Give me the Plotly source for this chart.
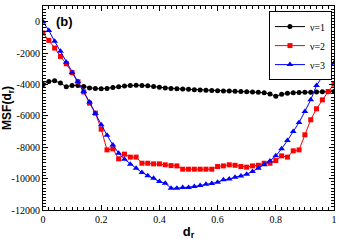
import plotly.graph_objects as go

dr = [round(i * 0.02, 2) for i in range(51)]

msf_v1 = [-4000, -3810, -3770, -3910, -4150, -4060, -4060, -4130, -4230, -4260,
          -4280, -4250, -4200, -4150, -4100, -4060, -4050, -4060, -4080, -4130,
          -4180, -4220, -4250, -4270, -4290, -4310, -4330, -4350, -4370, -4390,
          -4400, -4410, -4420, -4430, -4450, -4470, -4480, -4500, -4530, -4600,
          -4750, -4620, -4560, -4530, -4510, -4500, -4490, -4480, -4470, -4460, -4450]

msf_v2 = [-720, -1190, -1680, -2210, -2680, -3250, -3830, -4480, -5190, -5830,
          -6850, -8170, -8100, -8740, -8440, -8630, -8630, -9020, -9020, -9060,
          -9060, -9120, -9170, -9190, -9400, -9400, -9400, -9400, -9400, -9400,
          -9230, -9190, -9120, -9150, -9230, -9270, -9190, -9150, -9020, -9020,
          -8850, -8550, -8630, -8230, -8170, -7210, -6250, -5550, -4980, -4450, -3980]

msf_v3 = [0, -560, -1250, -1890, -2580, -3230, -3810, -4450, -5120, -5850,
          -6570, -7240, -7850, -8380, -8760, -9080, -9340, -9610, -9810, -9980,
          -10190, -10290, -10610, -10610, -10570, -10570, -10500, -10440, -10360, -10310,
          -10230, -10080, -10020, -9910, -9830, -9720, -9550, -9340, -9120, -8870,
          -8550, -8100, -7570, -7000, -6420, -5720, -4980, -4060, -3490, -2950, -2640]

series_names = ["ν=1", "ν=2", "ν=3"]
x_tickvals = [0, 0.2, 0.4, 0.6, 0.8, 1.0]
x_ticktext = ["0", "0.2", "0.4", "0.6", "0.8", "1"]
y_tickvals = [0, -2000, -4000, -6000, -8000, -10000, -12000]
y_ticktext = ["0", "-2000", "-4000", "-6000", "-8000", "-10000", "-12000"]

fig = go.Figure()
styles = [("black", "circle", 5), ("#ff0000", "square", 5), ("#0000ff", "triangle-up", 6)]
for name, ys, (col, sym, sz) in zip(series_names, [msf_v1, msf_v2, msf_v3], styles):
    fig.add_trace(go.Scatter(
        x=dr, y=ys, name=name, mode="lines+markers",
        line=dict(color=col, width=1),
        marker=dict(color=col, symbol=sym, size=sz, line=dict(width=0)),
    ))

axis_common = dict(
    showline=True, linecolor="black", linewidth=1.2, mirror="allticks",
    ticks="inside", ticklen=5, tickcolor="black", tickwidth=1,
    showgrid=False, zeroline=False, automargin=False,
    tickfont=dict(family="Liberation Serif", size=10, color="black"),
)

fig.update_xaxes(
    range=[0, 1], tickvals=x_tickvals, ticktext=x_ticktext,
    minor=dict(ticks="inside", ticklen=3, dtick=0.02, tick0=0, tickcolor="black", showgrid=False),
    title=dict(text="<b>d<sub>r</sub></b>", font=dict(family="Liberation Sans", size=13, color="black"), standoff=2),
    **axis_common,
)
fig.update_yaxes(
    range=[-12000, 1000], tickvals=y_tickvals, ticktext=y_ticktext,
    minor=dict(ticks="inside", ticklen=3, dtick=200, tick0=0, tickcolor="black", showgrid=False),
    title=dict(text="<b>MSF(d<sub>r</sub>)</b>", font=dict(family="Liberation Sans", size=12, color="black"), standoff=2),
    **axis_common,
)

fig.add_annotation(
    x=0.075, y=0.97, xref="paper", yref="paper", text="<b>(b)</b>",
    showarrow=False, xanchor="center", yanchor="top",
    font=dict(family="Liberation Sans", size=13, color="black"),
)

fig.update_layout(
    width=345, height=244,
    margin=dict(l=43, r=11, t=6, b=34),
    paper_bgcolor="white", plot_bgcolor="white",
    showlegend=True,
    legend=dict(
        x=0.993, y=0.975, xanchor="right", yanchor="top",
        bgcolor="white", bordercolor="black", borderwidth=1,
        font=dict(family="Liberation Serif", size=10, color="black"),
        tracegroupgap=0, itemwidth=30,
    ),
)

fig.write_html("out.html", config={"displayModeBar": False},
               post_script="document.body.style.margin='0';document.body.style.padding='0';")
